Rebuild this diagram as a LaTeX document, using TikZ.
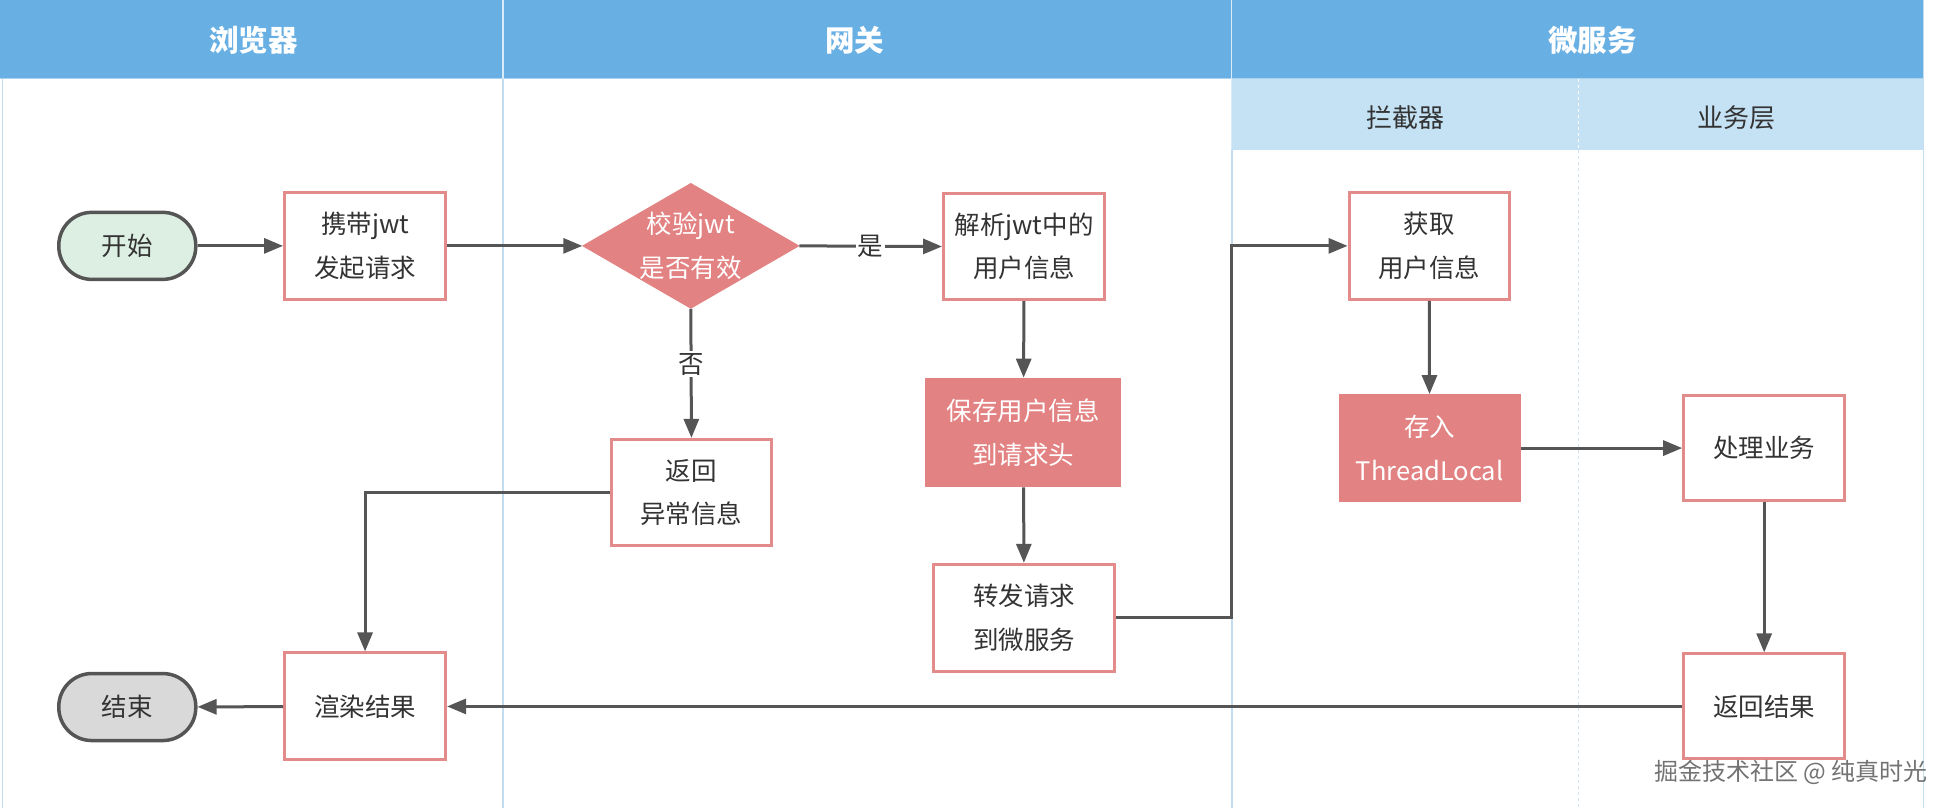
\documentclass[tikz,border=0pt]{standalone}
\usepackage{fontspec}
\setmainfont{Noto Sans CJK SC}
\usetikzlibrary{shapes.geometric,arrows.meta}
\definecolor{hdrblue}{HTML}{68AFE3}
\definecolor{subblue}{HTML}{C5E1F4}
\definecolor{laneline}{HTML}{C2DCF0}
\definecolor{boxred}{HTML}{E38B8B}
\definecolor{fillred}{HTML}{E38282}
\definecolor{arrowgray}{HTML}{555555}
\definecolor{startgreen}{HTML}{DDEFE3}
\definecolor{endgray}{HTML}{D9D9D9}
\definecolor{txt}{HTML}{333333}
\begin{document}
\begin{tikzpicture}[x=1.248pt,y=-1.248pt,
  every node/.style={font=\fontsize{25.5}{43.5}\selectfont, text=txt},
  procbox/.style={draw=boxred, line width=3pt, fill=white, align=center, inner sep=0pt},
  hotbox/.style={draw=fillred, line width=1pt, fill=fillred, align=center, inner sep=0pt, text=white},
  pill/.style={draw=arrowgray, line width=3.5pt, rounded corners=33pt, inner sep=0pt,
    minimum width=137pt, minimum height=67pt},
  decision/.style={diamond, draw=fillred, fill=fillred, inner sep=0pt, line width=1pt,
    minimum width=216pt, minimum height=125pt},
  flow/.style={draw=arrowgray, line width=3pt, -{Triangle[length=19pt,width=15pt]}},
  lbl/.style={fill=white, inner sep=2pt},
  hdr/.style={text=white, font=\fontsize{29.5}{33}\selectfont\bfseries},
  subhdr/.style={text=txt, font=\fontsize{26}{30}\selectfont},
  lane/.style={draw=laneline, line width=1.5pt}
]
% canvas
\useasboundingbox (0,0) rectangle (1568,647.4);
\fill[white] (0,0) rectangle (1568,647.4);
\fill[hdrblue] (0,0) rectangle (1541,63);
\fill[subblue] (987,63) rectangle (1541,120);
\draw[color=hdrblue!55!white, line width=1.5pt] (0,63) -- (1541,63);
\draw[lane] (2,63) -- (2,647);
\draw[lane] (403,63) -- (403,647);
\draw[lane] (987,120) -- (987,647);
\draw[lane] (1541,0) -- (1541,647);
\draw[color=white!75!hdrblue, line width=1.2pt] (403,0) -- (403,63);
\draw[color=white!75!hdrblue, line width=1.2pt] (987,0) -- (987,120);
\draw[dashed, color=white, line width=1pt] (1265,63) -- (1265,120);
\draw[dashed, color=laneline!70, line width=1pt] (1265,120) -- (1265,647);

% headers
\node[hdr] (h1) at (203,32) {浏览器};
\node[hdr] (h2) at (685,32) {网关};
\node[hdr] (h3) at (1276,32) {微服务};
\node[subhdr] (s1) at (1126,94) {拦截器};
\node[subhdr] (s2) at (1391,94) {业务层};

% nodes
\node[pill, fill=startgreen] (start) at (102,197) {开始};
\node[procbox, minimum width=161pt, minimum height=107pt] (carry) at (292.5,197) {携带jwt\\发起请求};
\node[decision, label={[text=white, align=center, font=\fontsize{25.5}{43.5}\selectfont]center:校验jwt\\是否有效}] (check) at (553.5,197) {};
\node[procbox, minimum width=161pt, minimum height=106pt] (parse) at (820.5,197.5) {解析jwt中的\\用户信息};
\node[procbox, minimum width=160pt, minimum height=106pt] (err) at (554,394.5) {返回\\异常信息};
\node[hotbox, minimum width=195pt, minimum height=108.6pt] (save) at (820,346.5) {保存用户信息\\到请求头};
\node[procbox, minimum width=181pt, minimum height=107pt] (fwd) at (820.5,495) {转发请求\\到微服务};
\node[procbox, minimum width=160pt, minimum height=107pt] (get) at (1145,197) {获取\\用户信息};
\node[hotbox, minimum width=181pt, minimum height=107pt] (store) at (1145.5,359) {存入\\ThreadLocal};
\node[procbox, minimum width=161pt, minimum height=105pt] (proc) at (1413.5,359) {处理业务};
\node[procbox, minimum width=161pt, minimum height=105pt] (ret) at (1413.5,566) {返回结果};
\node[procbox, minimum width=161pt, minimum height=107pt] (render) at (292.5,566) {渲染结果};
\node[pill, fill=endgray] (end) at (102,566.5) {结束};

\coordinate (bend) at (987,300);

% connectors
\draw[flow] (start) -- (carry);
\draw[flow] (carry) -- (check.west);
\draw[flow] (check.east) -- node[lbl] (yes) {是} (parse.west);
\draw[flow] (check.south) -- node[lbl, pos=0.43] (no) {否} (err.north);
\draw[flow] (err.west) -| (render.north);
\draw[flow] (parse) -- (save);
\draw[flow] (save) -- (fwd);
\draw[flow] (fwd.east) -- (fwd.east -| bend) -- (get.west -| bend) -- (get.west);
\draw[flow] (get) -- (store);
\draw[flow] (store.east) -- (store.east -| proc.west);
\draw[flow] (proc) -- (ret);
\draw[flow] (ret.west) -- (render.east);
\draw[flow] (render) -- (end);

% watermark
\node[font=\fontsize{24}{28}\selectfont, text=black!55] (wm) at (1435,618.5) {掘金技术社区 @ 纯真时光};
\end{tikzpicture}
\end{document}
